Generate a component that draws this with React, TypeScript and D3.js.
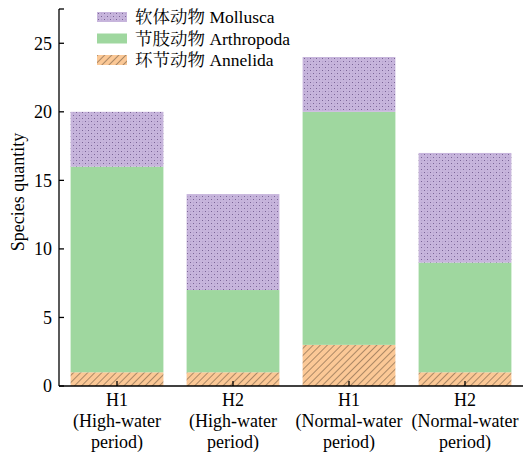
import React from "react";
import * as d3 from "d3";

const categories = ["H1|(High-water|period)", "H2|(High-water|period)", "H1|(Normal-water|period)", "H2|(Normal-water|period)"];
const annelida = [1, 1, 3, 1];
const arthropoda = [15, 6, 17, 8];
const mollusca = [4, 7, 4, 8];
const seriesCn = ["环节动物", "节肢动物", "软体动物"];
const seriesEn = ["Annelida", "Arthropoda", "Mollusca"];
const yTicks = [0, 5, 10, 15, 20, 25];

const W = 526, H = 454;
const LATIN = '"Liberation Serif"';
const CJK = '"Noto Serif CJK SC"';

export default function App() {
  const x = d3.scaleBand<string>().domain(categories).range([59, 523]).paddingInner(0.2).paddingOuter(0.1);
  const y = d3.scaleLinear().domain([0, 27.5]).range([386, 9]);
  const table = categories.map((c, i) => ({ cat: c, annelida: annelida[i], arthropoda: arthropoda[i], mollusca: mollusca[i] }));
  const stack = d3.stack<any>().keys(["annelida", "arthropoda", "mollusca"])(table);
  const fills = ["url(#hatch)", "#9fd79f", "url(#dots)"];
  const legendOrder = [2, 1, 0];
  const ts = (size: number) => ({ fontFamily: LATIN, fontSize: size });

  return (
    <svg width={W} height={H} style={{ position: "absolute", left: 0, top: 0 }}>
      <defs>
        <pattern id="hatch" patternUnits="userSpaceOnUse" width="5" height="5" patternTransform="rotate(45)">
          <rect width="5" height="5" fill="#fbc896" />
          <line x1="0" y1="0" x2="0" y2="5" stroke="#4a3a2a" strokeWidth="0.9" />
        </pattern>
        <pattern id="dots" patternUnits="userSpaceOnUse" width="6" height="6">
          <rect width="6" height="6" fill="#c7b5dc" />
          <rect x="1" y="1" width="1" height="1" fill="#7a6496" />
          <rect x="4" y="4" width="1" height="1" fill="#7a6496" />
          <rect x="4" y="1" width="1.2" height="1.2" fill="#b5a2ce" />
          <rect x="1" y="4" width="1.2" height="1.2" fill="#b5a2ce" />
        </pattern>
      </defs>
      {stack.map((s, si) =>
        s.map((d, i) => (
          <rect key={si + "-" + i} x={x(categories[i])} width={x.bandwidth()} y={y(d[1])} height={y(d[0]) - y(d[1])} fill={fills[si]} />
        ))
      )}
      <line x1={59} x2={59} y1={9} y2={386} stroke="#000" strokeWidth={1.3} />
      <line x1={59} x2={64} y1={9} y2={9} stroke="#000" strokeWidth={1.3} />
      {yTicks.map((t) => (
        <g key={t}>
          <line x1={59} x2={64} y1={y(t)} y2={y(t)} stroke="#000" strokeWidth={1.3} />
          <text x={52} y={y(t)} dy="0.35em" textAnchor="end" style={ts(18)}>{t}</text>
        </g>
      ))}
      <line x1={59} x2={523} y1={386} y2={386} stroke="#000" strokeWidth={1.3} />
      {categories.map((c) => {
        const cx = (x(c) as number) + x.bandwidth() / 2;
        return (
          <g key={c}>
            <line x1={cx} x2={cx} y1={386} y2={381} stroke="#000" strokeWidth={1.3} />
            {c.split("|").map((line, li) => (
              <text key={li} x={cx} y={406 + li * 21} textAnchor="middle" style={ts(18)}>{line}</text>
            ))}
          </g>
        );
      })}
      <text transform="translate(24,192) rotate(-90)" textAnchor="middle" style={ts(18)}>Species quantity</text>
      {legendOrder.map((si, k) => (
        <g key={si} transform={`translate(97, ${12 + k * 21.5})`}>
          <rect width={30} height={10} fill={fills[si]} />
          <text x={38} y={5} dy="0.35em" style={ts(17.5)}>
            <tspan style={{ fontFamily: CJK }}>{seriesCn[si]}</tspan>
            <tspan> {seriesEn[si]}</tspan>
          </text>
        </g>
      ))}
    </svg>
  );
}
